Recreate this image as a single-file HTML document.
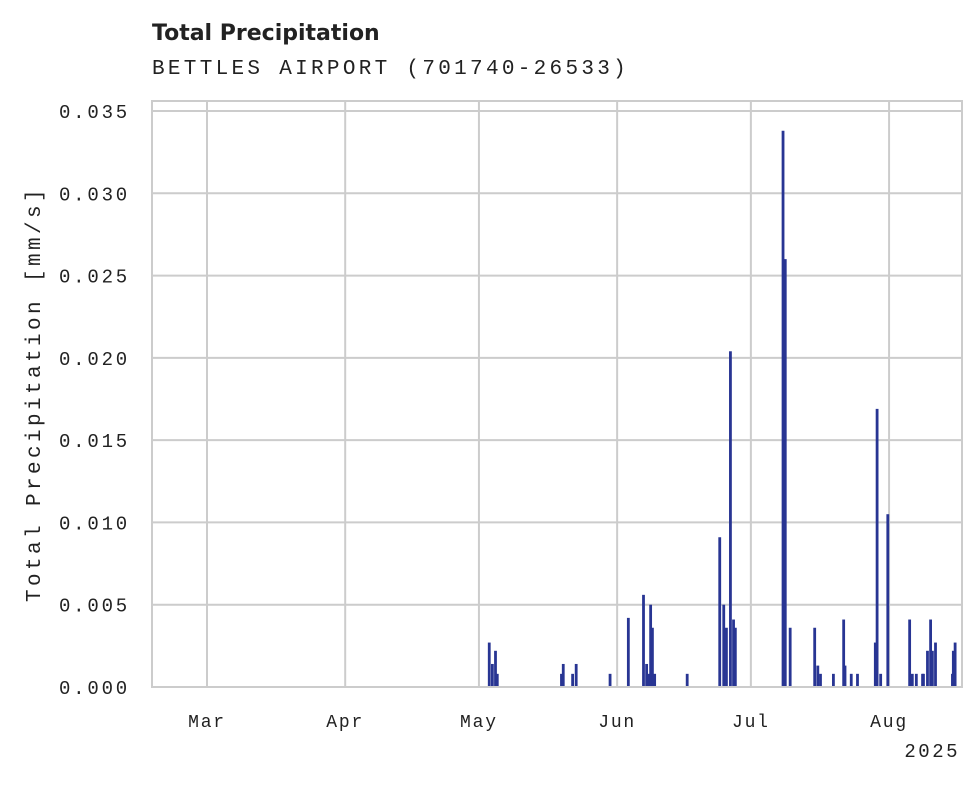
<!DOCTYPE html>
<html><head><meta charset="utf-8"><style>
body{margin:0;background:#fff;}
svg text{font-family:"Liberation Mono",monospace;fill:#222;}
</style></head><body>
<svg id="chart" width="980" height="783" xmlns="http://www.w3.org/2000/svg">
<text x="152" y="40" style="font-family:'DejaVu Sans',sans-serif;font-weight:bold;font-size:22px">Total Precipitation</text>
<text x="152" y="74" font-size="21" letter-spacing="3.3">BETTLES AIRPORT (701740-26533)</text>
<g id="grid"></g>
<g id="bars"></g>
<rect x="152" y="101" width="810" height="586" fill="none" stroke="#ccc" stroke-width="2"/>
<g id="axes"></g>
<text transform="translate(40,394) rotate(-90)" text-anchor="middle" font-size="21" letter-spacing="3.4">Total Precipitation [mm/s]</text>
<text x="960" y="757" text-anchor="end" font-size="19" letter-spacing="2.5">2025</text>
</svg>
<script>
const dayOffsets=[63.0,63.7,64.4,64.8,79.2,79.6,81.7,82.5,90.1,94.2,97.6,98.3,98.7,99.2,99.6,100.1,107.4,114.7,115.6,116.2,117.1,117.8,118.2,128.9,129.4,130.5,136.0,136.7,137.3,140.2,142.5,142.8,144.2,145.6,149.6,150.0,150.8,152.4,157.3,157.9,158.8,160.2,160.4,161.3,162.0,162.4,163.1,166.9,167.1,167.5];
const precipValues=[0.0027,0.0014,0.0022,0.0008,0.0008,0.0014,0.0008,0.0014,0.0008,0.0042,0.0056,0.0014,0.0008,0.0050,0.0036,0.0008,0.0008,0.0091,0.0050,0.0036,0.0204,0.0041,0.0036,0.0338,0.0260,0.0036,0.0036,0.0013,0.0008,0.0008,0.0041,0.0013,0.0008,0.0008,0.0027,0.0169,0.0008,0.0105,0.0041,0.0008,0.0008,0.0008,0.0008,0.0022,0.0041,0.0022,0.0027,0.0008,0.0022,0.0027];
const yTicks=[0,0.005,0.010,0.015,0.020,0.025,0.030,0.035];
const yTickLabels=["0.000","0.005","0.010","0.015","0.020","0.025","0.030","0.035"];
const monthOffsets=[0,31,61,92,122,153];
const monthLabels=["Mar","Apr","May","Jun","Jul","Aug"];
const NS="http://www.w3.org/2000/svg";
function xScale(d){return 207+d*4.458;}
function yScale(v){return 687-v*16457;}
const grid=document.getElementById('grid'),bars=document.getElementById('bars'),axes=document.getElementById('axes');
function mk(tag,attrs,parent){const e=document.createElementNS(NS,tag);for(const k in attrs)e.setAttribute(k,attrs[k]);parent.appendChild(e);return e;}
yTicks.forEach((t,i)=>{
  const y=yScale(t);
  const l=mk('line',{x1:152,x2:962,y1:y,y2:y,stroke:'#ccc','stroke-width':2},grid);
  
  
  const tx=mk('text',{x:130,y:y+7,'text-anchor':'end','font-size':19,'letter-spacing':2.8},axes);
  tx.textContent=yTickLabels[i];
  
  
});
monthOffsets.forEach((m,i)=>{
  const x=xScale(m);
  const l=mk('line',{x1:x,x2:x,y1:101,y2:687,stroke:'#ccc','stroke-width':2},grid);
  
  
  const tx=mk('text',{x:x,y:727,'text-anchor':'middle','font-size':18,'letter-spacing':1.8},axes);
  tx.textContent=monthLabels[i];
  
  
});
dayOffsets.forEach((d,i)=>{
  const x=xScale(d),y=yScale(precipValues[i]);
  const r=mk('rect',{x:x,y:y,width:2.8,height:687-y,fill:'#283593'},bars);
  
  
});
</script>
</body></html>
